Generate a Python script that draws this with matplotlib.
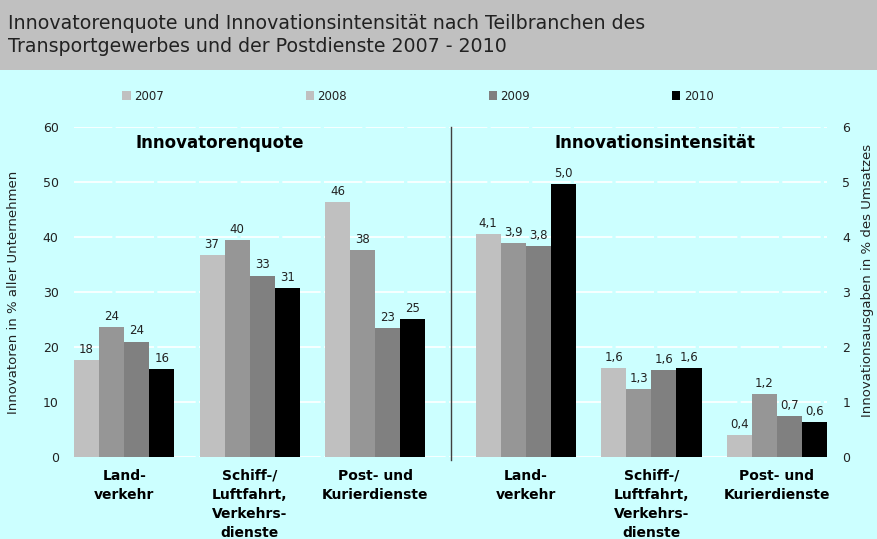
import matplotlib
matplotlib.use("Agg")
from matplotlib import pyplot
from matplotlib.patches import Patch, Rectangle
import matplotlib.transforms as transforms
import numpy

# Daten
years = ["2007", "2008", "2009", "2010"]
branches = ["Land-\nverkehr", "Schiff-/\nLuftfahrt,\nVerkehrs-\ndienste", "Post- und\nKurierdienste"]

# Innovatorenquote (Balkenhoehen und Beschriftungen wie im Original)
quote_2007 = [17.6, 36.7, 46.4]
quote_2008 = [23.6, 39.5, 37.6]
quote_2009 = [21.0, 33.0, 23.5]
quote_2010 = [16.0, 30.7, 25.1]
quote_labels = [["18", "37", "46"], ["24", "40", "38"], ["24", "33", "23"], ["16", "31", "25"]]

# Innovationsintensitaet
intens_2007 = [4.05, 1.62, 0.40]
intens_2008 = [3.89, 1.24, 1.15]
intens_2009 = [3.84, 1.58, 0.75]
intens_2010 = [4.96, 1.62, 0.64]
intens_labels = [["4,1", "1,6", "0,4"], ["3,9", "1,3", "1,2"], ["3,8", "1,6", "0,7"], ["5,0", "1,6", "0,6"]]

bar_colors = ["#c0c0c0", "#969696", "#808080", "#000000"]
legend_colors = ["#c0c0c0", "#c0c0c0", "#808080", "#000000"]
text_color = "#222222"

pyplot.rcParams["font.family"] = ["DejaVu Sans"]

fig = pyplot.figure(figsize=(8.77, 5.39), dpi=100, facecolor="#ccffff")

# Grauer Titelbalken
fig.patches.append(Rectangle((0, 1 - 70 / 539), 1, 70 / 539, transform=fig.transFigure,
                             facecolor="#c0c0c0", edgecolor="none", zorder=0))
fig.text(8 / 877, 1 - 35 / 539,
         "Innovatorenquote und Innovationsintensität nach Teilbranchen des\n"
         "Transportgewerbes und der Postdienste 2007 - 2010",
         fontsize=13.7, color=text_color, va="center", ha="left", linespacing=1.3)

ax = fig.add_axes([74 / 877, (539 - 457) / 539, 753 / 877, 330 / 539])
ax.set_facecolor("none")
ax2 = ax.twinx()

left_pos = numpy.array([0.0, 1.0, 2.0])
right_pos = numpy.array([3.2, 4.2, 5.2])
offsets = [-0.3, -0.1, 0.1, 0.3]
width = 0.2

quote = [quote_2007, quote_2008, quote_2009, quote_2010]
intens = [intens_2007, intens_2008, intens_2009, intens_2010]

for i in range(4):
    b1 = ax.bar(left_pos + offsets[i], quote[i], width, color=bar_colors[i], zorder=3)
    ax.bar_label(b1, labels=quote_labels[i], padding=3, fontsize=8.5, color=text_color)
    b2 = ax2.bar(right_pos + offsets[i], intens[i], width, color=bar_colors[i], zorder=3)
    ax2.bar_label(b2, labels=intens_labels[i], padding=3, fontsize=8.5, color=text_color)

ax.set_xlim(-0.4, 5.6)
ax.set_ylim(0, 60)
ax2.set_ylim(0, 6)
ax.set_yticks(range(0, 61, 10))
ax2.set_yticks(range(0, 7))
ax.set_xticks([])

for a in (ax, ax2):
    for s in a.spines.values():
        s.set_visible(False)
    a.tick_params(axis="y", length=0, labelsize=9, labelcolor=text_color, pad=11)

# Weisse Gitterlinien
ax.grid(axis="y", color="white", linewidth=1.2, linestyle=(0, (23, 2)), zorder=1)
ax.set_axisbelow(True)

# Trennlinie
ax.axvline(2.6, ymin=-0.01, ymax=1, color="#404040", linewidth=1, clip_on=False, zorder=4)

# Ueberschriften der Teile
ax.text(0.76, 57.1, "Innovatorenquote", fontsize=12, fontweight="bold",
        ha="center", va="center", color="black")
ax.text(4.23, 57.1, "Innovationsintensität", fontsize=12, fontweight="bold",
        ha="center", va="center", color="black")

# Kategorien
trans = transforms.blended_transform_factory(ax.transData, ax.transAxes)
for x, name in zip(list(left_pos) + list(right_pos), branches + branches):
    ax.text(x, -0.036, name, transform=trans, fontsize=10, fontweight="bold",
            ha="center", va="top", linespacing=1.45, color="black")

# Achsentitel
fig.text(14 / 877, 1 - 292 / 539, "Innovatoren in % aller Unternehmen", rotation=90,
         fontsize=9.5, color=text_color, ha="center", va="center")
fig.text(867 / 877, 1 - 280 / 539, "Innovationsausgaben in % des Umsatzes", rotation=90,
         fontsize=9.5, color=text_color, ha="center", va="center")

# Legende
handles = [Patch(facecolor=c, edgecolor="none") for c in legend_colors]
fig.legend(handles, years, loc="center", bbox_to_anchor=(418 / 877, 1 - 96 / 539), ncol=4,
           frameon=False, fontsize=8.5, handlelength=0.7, handleheight=0.7,
           handletextpad=0.3, columnspacing=12.0, labelcolor=text_color)

fig.savefig("out.png", dpi=100, facecolor=fig.get_facecolor())
